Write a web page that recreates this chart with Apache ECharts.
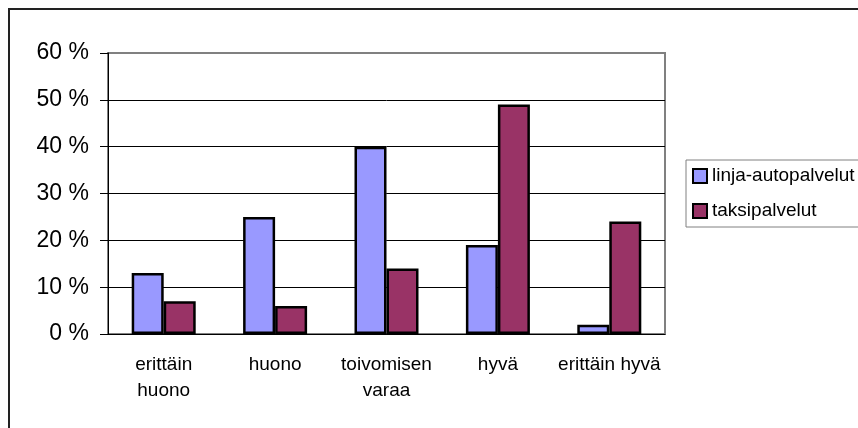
<!DOCTYPE html>
<html>
<head>
<meta charset="utf-8">
<script src="https://cdn.jsdelivr.net/npm/echarts@6/dist/echarts.min.js"></script>
<style>
  html, body { margin: 0; padding: 0; background: #fff; }
  #chart { width: 858px; height: 428px; }
</style>
</head>
<body>
<div id="chart"></div>
<script>
const categories = ['erittäin\nhuono', 'huono', 'toivomisen\nvaraa', 'hyvä', 'erittäin hyvä']
const busValues = [13, 25, 40, 19, 2]
const taxiValues = [7, 6, 14, 49, 24]
const seriesNames = ['linja-autopalvelut', 'taksipalvelut']
const yTicks = [0, 10, 20, 30, 40, 50, 60]

const font = 'Liberation Sans, Arial, sans-serif'
const chart = echarts.init(document.getElementById('chart'))

const barStyle = (color) => ({
  color: color,
  borderColor: '#000',
  borderWidth: 2.5
})

const option = {
  animation: false,
  graphic: [{
    type: 'rect',
    shape: { x: 9, y: 9, width: 900, height: 500 },
    style: { fill: 'none', stroke: '#222', lineWidth: 2 },
    silent: true
  }],
  grid: {
    left: 108,
    right: 193,
    top: 53,
    bottom: 94,
    show: true,
    borderColor: '#808080',
    borderWidth: 2,
    backgroundColor: '#fff'
  },
  legend: {
    orient: 'vertical',
    left: 686,
    top: 160,
    padding: [5, 30, 5, 6],
    itemGap: 13,
    itemWidth: 14,
    itemHeight: 14,
    icon: 'rect',
    borderColor: '#808080',
    borderWidth: 1,
    data: seriesNames,
    textStyle: { fontFamily: font, fontSize: 19, lineHeight: 22, color: '#000' }
  },
  xAxis: {
    type: 'category',
    data: categories,
    axisLine: { lineStyle: { color: '#000', width: 1 } },
    axisTick: { length: 6, lineStyle: { color: '#000' } },
    axisLabel: {
      margin: 18,
      interval: 0,
      fontFamily: font,
      fontSize: 19,
      lineHeight: 26,
      color: '#000'
    }
  },
  yAxis: {
    type: 'value',
    min: yTicks[0],
    max: yTicks[yTicks.length - 1],
    interval: 10,
    axisLine: { show: true, lineStyle: { color: '#000', width: 1 } },
    axisTick: { show: true, length: 8, lineStyle: { color: '#000' } },
    splitLine: {
      lineStyle: {
        color: ['#000', '#000', '#000', '#000', '#000', '#000', '#808080'],
        width: 1
      }
    },
    axisLabel: {
      margin: 19,
      fontFamily: font,
      fontSize: 23,
      color: '#000',
      formatter: '{value} %'
    }
  },
  series: [
    {
      name: seriesNames[0],
      type: 'bar',
      data: busValues,
      barWidth: 32,
      barGap: '0%',
      itemStyle: barStyle('#9999FF')
    },
    {
      name: seriesNames[1],
      type: 'bar',
      data: taxiValues,
      barWidth: 32,
      itemStyle: barStyle('#993366')
    }
  ]
}

chart.setOption(option)
</script>
</body>
</html>
